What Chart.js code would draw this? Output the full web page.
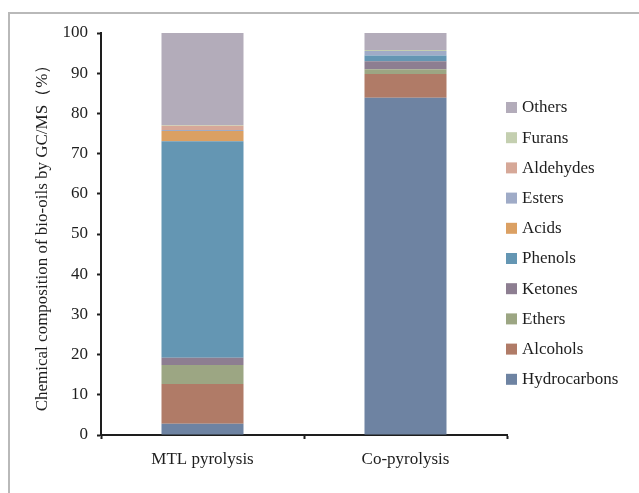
<!DOCTYPE html>
<html>
<head>
    <script src="https://cdn.jsdelivr.net/npm/chart.js"></script>
    <style>
        body { margin: 0; background: #fff; }
    </style>
</head>
<body>
<canvas id="gcmsChart" width="639" height="493"></canvas>

<script>
    // bio-oil composition by GC/MS, percent of peak area
    const samples = ['MTL pyrolysis', 'Co-pyrolysis'];
    const compounds = ['Hydrocarbons', 'Alcohols', 'Ethers', 'Ketones', 'Phenols',
                       'Acids', 'Esters', 'Aldehydes', 'Furans', 'Others'];
    const hydrocarbons = [2.8, 83.9];
    const alcohols     = [9.9, 5.9];
    const ethers       = [4.7, 1.2];
    const ketones      = [1.8, 2.0];
    const phenols      = [53.9, 1.4];
    const acids        = [2.5, 0];
    const esters       = [0.3, 1.1];
    const aldehydes    = [1.0, 0];
    const furans       = [0.2, 0.3];
    const others       = [22.9, 4.2];
    const yTicks = [0, 10, 20, 30, 40, 50, 60, 70, 80, 90, 100];

    const values = [hydrocarbons, alcohols, ethers, ketones, phenols,
                    acids, esters, aldehydes, furans, others];
    const colors = ['#6e83a2', '#b07b67', '#9ca683', '#8d7e91', '#6496b3',
                    '#dba063', '#9fabc7', '#d6a898', '#c4cfb0', '#b3acba'];

    const serif = 'Liberation Serif';
    const fontSize = 17;
    const ink = '#1e1e1e';

    // grey frame along top and left edge
    const frame = {
        id: 'frame',
        beforeDraw(chart) {
            const ctx = chart.ctx;
            ctx.save();
            ctx.fillStyle = '#fff';
            ctx.fillRect(0, 0, chart.width, chart.height);
            ctx.fillStyle = '#b9b9b9';
            ctx.fillRect(8, 12, chart.width - 8, 2);
            ctx.fillRect(8, 12, 2, chart.height - 12);
            ctx.restore();
        }
    };

    // legend on the right, top entry = last dataset
    const sideLegend = {
        id: 'sideLegend',
        afterDraw(chart) {
            const ctx = chart.ctx;
            const x = chart.chartArea.right - 1;
            const y0 = 107;
            const step = 30.2;
            ctx.save();
            ctx.font = fontSize + 'px "' + serif + '"';
            ctx.textBaseline = 'middle';
            ctx.textAlign = 'left';
            const ds = chart.data.datasets;
            for (let i = 0; i < ds.length; i++) {
                const d = ds[ds.length - 1 - i];
                const y = y0 + i * step;
                ctx.fillStyle = d.backgroundColor;
                ctx.fillRect(x, y - 5, 11, 11);
                ctx.fillStyle = ink;
                ctx.fillText(d.label, x + 16, y + 1);
            }
            ctx.restore();
        }
    };

    new Chart(document.getElementById('gcmsChart'), {
        type: 'bar',
        data: {
            labels: samples,
            datasets: compounds.map((name, i) => ({
                label: name,
                data: values[i],
                backgroundColor: colors[i],
                borderWidth: 0,
                barPercentage: 0.404,
                categoryPercentage: 1
            }))
        },
        options: {
            responsive: false,
            animation: false,
            layout: { padding: { left: 24, right: 132, top: 33, bottom: 0 } },
            plugins: {
                legend: { display: false },
                tooltip: { enabled: false }
            },
            scales: {
                x: {
                    stacked: true,
                    offset: true,
                    grid: {
                        offset: true,
                        drawOnChartArea: false,
                        tickLength: 4,
                        tickWidth: 2,
                        tickColor: ink
                    },
                    border: { color: ink, width: 2 },
                    ticks: {
                        padding: 10,
                        color: ink,
                        font: { family: serif, size: fontSize }
                    },
                    afterFit(scale) { scale.height = 58; }
                },
                y: {
                    stacked: true,
                    min: 0,
                    max: 100,
                    afterBuildTicks(scale) {
                        scale.ticks = yTicks.map(v => ({ value: v }));
                    },
                    grid: {
                        drawOnChartArea: false,
                        tickLength: 4,
                        tickWidth: 2,
                        tickColor: ink
                    },
                    border: { color: ink, width: 2 },
                    ticks: {
                        padding: 9,
                        color: ink,
                        font: { family: serif, size: fontSize }
                    },
                    title: {
                        display: true,
                        text: 'Chemical composition of bio-oils by GC/MS（%）',
                        color: ink,
                        font: { family: serif, size: fontSize },
                        padding: { top: 8, bottom: 0 }
                    },
                    afterFit(scale) { scale.width = 101 - 24; }
                }
            }
        },
        plugins: [frame, sideLegend]
    });
</script>
</body>
</html>
